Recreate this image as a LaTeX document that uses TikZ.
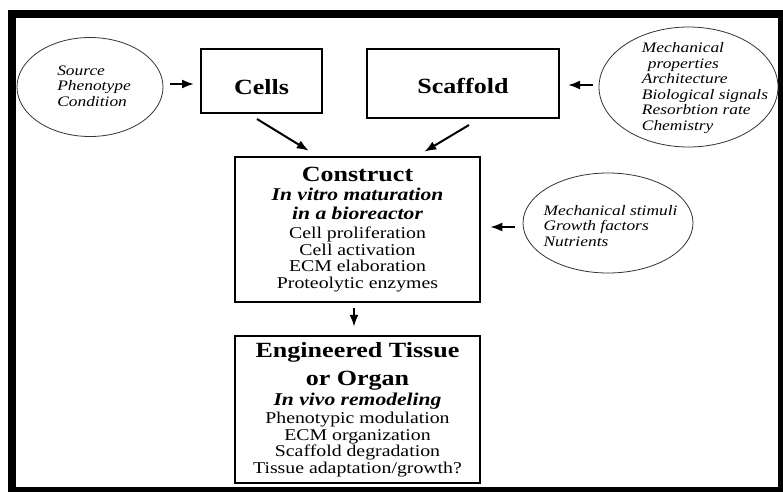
\documentclass[tikz,border=0pt]{standalone}
\usepackage{fontspec}
\newfontfamily\figfont[FakeStretch=1.2]{Liberation Serif}
\usetikzlibrary{shapes,arrows,arrows.meta,calc}
\newcommand{\blockhead}{\fontsize{21.7}{16.5}\selectfont\bfseries}
\newcommand{\subhead}{\fontsize{18}{16.5}\selectfont\bfseries\itshape}
\tikzstyle{block} = [draw, rectangle, line width=2pt, inner sep=0pt,
    align=center, font=\figfont\fontsize{16.5}{16.5}\selectfont]
\tikzstyle{oval} = [draw=black!80, ellipse, line width=0.8pt, inner sep=0pt]
\tikzstyle{ovaltext} = [align=left, inner sep=0pt,
    font=\figfont\itshape\fontsize{14.5}{15.5}\selectfont]
\tikzstyle{link} = [->, line width=2pt]

\begin{document}
\begin{tikzpicture}[x=1pt, y=-1pt, >={Latex[length=12pt,width=9pt]}]
    \useasboundingbox (0,0) rectangle (783,491);
    \clip (0,0) rectangle (783,491);
    % heavy frame round the whole figure
    \draw [line width=8pt] (12,14) rectangle (782,491);

    % We start by placing the blocks
    \node [block, minimum width=121, minimum height=64,
            text height=26pt, text depth=0pt] (cells) at (261.5,81) {\blockhead Cells};
    \node [block, minimum width=192, minimum height=69,
            text height=20pt, text depth=0pt] (scaffold) at (463,83.5) {\blockhead Scaffold};
    \node [block, line width=2.5pt, minimum width=245,
            minimum height=145] (construct) at (357.5,229.5)
        {{\blockhead Construct}\\[2.5pt] {\subhead In vitro maturation}\\[2.5pt]
         {\subhead in a bioreactor}\\[2.5pt] Cell proliferation\\ Cell activation\\
         ECM elaboration\\ Proteolytic enzymes};
    \node [block, line width=2.5pt, minimum width=245,
            minimum height=147] (tissue) at (357.5,409.5)
        {{\blockhead Engineered Tissue}\\[8.5pt] {\blockhead or Organ}\\[1.5pt]
         {\subhead In vivo remodeling}\\[1.5pt] Phenotypic modulation\\
         ECM organization\\ Scaffold degradation\\ Tissue adaptation/growth?};

    % The ellipses with the factors that act on each block
    \node [oval, minimum width=146, minimum height=99] (cellsrc) at (90,87) {};
    \node [ovaltext] (cellsrctext) at (94,86) {Source\\ Phenotype\\ Condition};
    \node [oval, minimum width=179, minimum height=120] (props) at (688.5,87) {};
    \node [ovaltext] (propstext) at (705,88)
        {Mechanical\\ \hspace*{6pt}properties\\ Architecture\\ Biological signals\\
         Resorbtion rate\\ Chemistry};
    \node [oval, minimum width=170, minimum height=100] (stimuli) at (608,223) {};
    \node [ovaltext] (stimulitext) at (610.5,226)
        {Mechanical stimuli\\ Growth factors\\ Nutrients};

    % Once the nodes are placed, connecting them is easy.
    \draw [link] ($(cellsrc.east)+(7,-3)$) -- ($(cells.west)+(-6,3)$);
    \draw [link] ($(props.west)+(-6,-2)$) -- ($(scaffold.east)+(8,1.5)$);
    \draw [link] ($(stimuli.west)+(-8,4)$) -- ($(construct.east)+(9,-2.5)$);
    \draw [link] ($(cells.south)+(-4.5,5)$) -- ($(construct.north west)+(75,-5)$);
    \draw [link] ($(scaffold.south)+(6,6)$) -- ($(construct.north east)+(-57,-4)$);
    \draw [link] ($(construct.south)+(-3.5,5)$) -- ($(tissue.north)+(-3.5,-8)$);
\end{tikzpicture}
\end{document}
